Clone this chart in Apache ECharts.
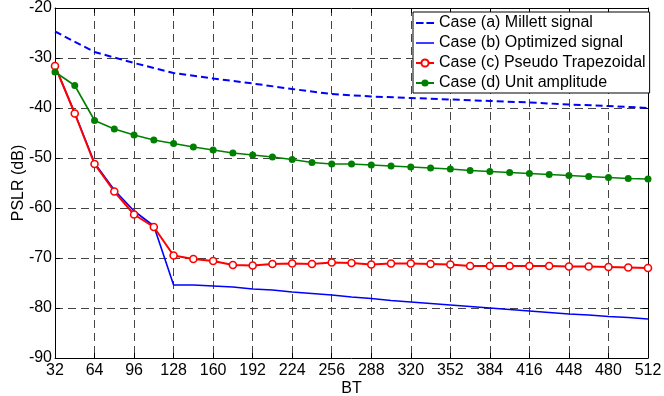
<!DOCTYPE html>
<html>
<head>
<meta charset="utf-8">
<script src="https://cdn.jsdelivr.net/npm/echarts@6/dist/echarts.min.js"></script>
<style>html,body{margin:0;padding:0;background:#fff}#c{width:664px;height:396px}</style>
</head>
<body>
<div id="c"></div>
<script>
var btFine = [32,48,64,80,96,112,128,144,160,176,192,208,224,240,256,272,288,304,320,336,352,368,384,400,416,432,448,464,480,496,512];
var btCoarse = [32,64,96,128,160,192,224,256,288,320,352,384,416,448,480,512];
var xTicks = [32,64,96,128,160,192,224,256,288,320,352,384,416,448,480,512];
var yTicks = [-90,-80,-70,-60,-50,-40,-30,-20];
var names = ['Case (a) Millett signal','Case (b) Optimized signal','Case (c) Pseudo Trapezoidal','Case (d) Unit amplitude'];
var millett = [-24.7,-28.8,-31.0,-33.0,-34.1,-35.1,-36.2,-37.2,-37.7,-38.0,-38.3,-38.6,-38.9,-39.3,-39.6,-40.0];
var optimized = [-31.6,-41.0,-51.0,-56.4,-60.6,-63.6,-75.4,-75.4,-75.6,-75.8,-76.2,-76.4,-76.8,-77.1,-77.4,-77.8,-78.1,-78.5,-78.8,-79.1,-79.4,-79.7,-80.0,-80.3,-80.6,-80.9,-81.2,-81.4,-81.7,-81.9,-82.2];
var trapezoidal = [-31.6,-41.1,-51.2,-56.7,-61.3,-63.8,-69.5,-70.2,-70.6,-71.4,-71.5,-71.2,-71.1,-71.2,-70.9,-71.0,-71.3,-71.1,-71.1,-71.2,-71.3,-71.6,-71.6,-71.6,-71.6,-71.6,-71.7,-71.7,-71.8,-71.9,-72.0];
var unitAmp = [-32.8,-35.5,-42.5,-44.2,-45.4,-46.4,-47.1,-47.8,-48.4,-49.0,-49.4,-49.8,-50.3,-50.9,-51.2,-51.2,-51.4,-51.6,-51.8,-52.0,-52.2,-52.5,-52.7,-52.9,-53.1,-53.3,-53.5,-53.7,-53.9,-54.1,-54.2];

function pairs(xs, ys){ return xs.map(function(x,i){ return [x, ys[i]]; }); }

var FONT = 'Liberation Sans, Arial, Helvetica, sans-serif';
var chart = echarts.init(document.getElementById('c'), null, {renderer:'canvas'});
var gridLine = {show:true, lineStyle:{color:'#444', width:1, type:[8,5]}};
var option = {
  animation:false,
  backgroundColor:'#fff',
  grid:{left:55, right:16, top:8, bottom:38, containLabel:false, outerBoundsMode:'none'},
  xAxis:[{
    type:'value', min:32, max:512, interval:32,
    name:'BT', nameLocation:'middle', nameGap:23, nameMoveOverlap:false,
    nameTextStyle:{color:'#000', fontSize:16, fontFamily:FONT},
    axisLine:{show:true, onZero:false, lineStyle:{color:'#000', width:1}},
    axisTick:{show:true, inside:true, length:5, lineStyle:{color:'#000'}},
    axisLabel:{color:'#000', fontSize:16, fontFamily:FONT, margin:5, showMinLabel:true, showMaxLabel:true},
    splitLine:gridLine
  },{
    type:'value', min:32, max:512, interval:32, position:'top',
    axisLine:{show:true, onZero:false, lineStyle:{color:'#000', width:1}},
    axisTick:{show:true, inside:true, length:5, lineStyle:{color:'#000'}},
    axisLabel:{show:false}, splitLine:{show:false}
  }],
  yAxis:[{
    type:'value', min:-90, max:-20, interval:10,
    name:'PSLR (dB)', nameLocation:'middle', nameGap:28, nameRotate:90, nameMoveOverlap:false,
    nameTextStyle:{color:'#000', fontSize:16, fontFamily:FONT},
    axisLine:{show:true, onZero:false, lineStyle:{color:'#000', width:1}},
    axisTick:{show:true, inside:true, length:5, lineStyle:{color:'#000'}},
    axisLabel:{color:'#000', fontSize:16, fontFamily:FONT, margin:3},
    splitLine:gridLine
  },{
    type:'value', min:-90, max:-20, interval:10, position:'right',
    axisLine:{show:true, onZero:false, lineStyle:{color:'#000', width:1}},
    axisTick:{show:true, inside:true, length:5, lineStyle:{color:'#000'}},
    axisLabel:{show:false}, splitLine:{show:false}
  }],
  legend:{
    show:true, orient:'vertical', left:413, top:12,
    data:[
      {name:names[0], icon:'path://M0,0H8V2H0Z M11,0H19V2H11Z'},
      {name:names[1], icon:'path://M0,0H19V1.6H0Z'},
      {name:names[2]},
      {name:names[3]}
    ],
    backgroundColor:'#fff', borderColor:'#000', borderWidth:1, borderRadius:0,
    padding:[3,4,2,2], itemGap:4, itemWidth:18, itemHeight:9,
    textStyle:{color:'#000', fontSize:16, fontFamily:FONT, lineHeight:16}
  },
  series:[
    {name:names[0], type:'line', data:pairs(btCoarse, millett),
     symbol:'none', lineStyle:{color:'#0000ff', width:2, type:[7,4]}, itemStyle:{color:'#0000ff'}, z:2},
    {name:names[1], type:'line', data:pairs(btFine, optimized),
     symbol:'none', lineStyle:{color:'#0000ff', width:1.6}, itemStyle:{color:'#0000ff'}, z:3},
    {name:names[2], type:'line', data:pairs(btFine, trapezoidal),
     symbol:'circle', symbolSize:7, showAllSymbol:true,
     lineStyle:{color:'#ff0000', width:2}, itemStyle:{color:'#ffffff', borderColor:'#ff0000', borderWidth:1.6}, z:4},
    {name:names[3], type:'line', data:pairs(btFine, unitAmp),
     symbol:'circle', symbolSize:7, showAllSymbol:true,
     lineStyle:{color:'#008000', width:1.6}, itemStyle:{color:'#008000'}, z:5}
  ]
};
chart.setOption(option);
</script>
</body>
</html>
